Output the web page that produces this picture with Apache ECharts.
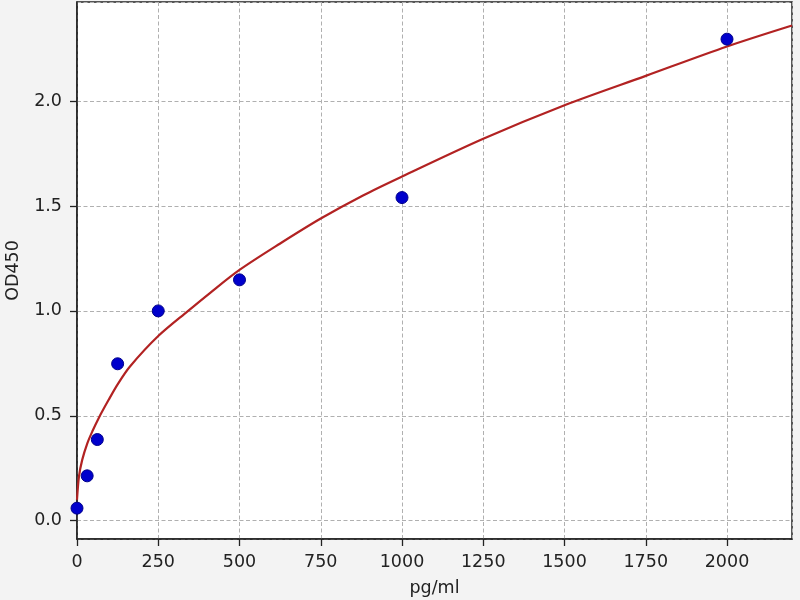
<!DOCTYPE html>
<html>
<head>
<meta charset="utf-8">
<title>OD450 标准曲线</title>
<script src="https://cdn.jsdelivr.net/npm/echarts@6/dist/echarts.min.js"></script>
<style>
    html, body { margin: 0; padding: 0; background: #f3f3f3; }
    #main { width: 800px; height: 600px; }
</style>
</head>
<body>
<div id="main"></div>
<script type="text/javascript">
    // 标准品浓度 (pg/ml) 和 OD450 读数
    var std_conc = [0, 31.25, 62.5, 125, 250, 500, 1000, 2000];
    var std_od = [0.06, 0.214, 0.387, 0.748, 1.0, 1.148, 1.54, 2.295];

    // 拟合曲线 (从图上读出的点)
    var fit_conc = [0, 6, 16, 32, 47, 67, 97, 125, 163, 250, 342, 409, 500, 624, 750, 880, 1000, 1250, 1500, 1750, 2000, 2200];
    var fit_od = [0.10, 0.21, 0.29, 0.37, 0.425, 0.49, 0.575, 0.65, 0.735, 0.88, 1.0, 1.085, 1.195, 1.32, 1.44, 1.55, 1.64, 1.82, 1.98, 2.12, 2.26, 2.36];

    // 坐标轴范围
    var x_min = 0, x_max = 2200, x_step = 250;
    var y_min = -0.087, y_max = 2.472;

    var pts = [];
    for (var i = 0; i < std_conc.length; i++) {
        pts.push([std_conc[i], std_od[i]]);
    }
    var curve = [];
    for (var j = 0; j < fit_conc.length; j++) {
        curve.push([fit_conc[j], fit_od[j]]);
    }

    var font = 'DejaVu Sans';
    var gridLine = { show: true, lineStyle: { color: '#b0b0b0', type: [4, 2.5], width: 1 } };

    var myChart = echarts.init(document.getElementById('main'));
    var option = {
        backgroundColor: '#f3f3f3',
        animation: false,
        grid: {
            left: 77, right: 8, top: 2, bottom: 61,
            containLabel: false,
            outerBoundsMode: 'none',
            show: true,
            backgroundColor: '#ffffff',
            borderColor: '#222',
            borderWidth: 1.5
        },
        xAxis: {
            type: 'value',
            min: x_min,
            max: x_max,
            interval: x_step,
            name: 'pg/ml',
            nameLocation: 'middle',
            nameGap: 40,
            nameTextStyle: { fontFamily: font, fontSize: 17.5, color: '#222' },
            axisLine: { show: true, onZero: false, lineStyle: { color: '#222', width: 1.5 } },
            axisTick: { show: true, inside: false, length: 7, lineStyle: { color: '#222', width: 1.3 } },
            axisLabel: {
                fontFamily: font, fontSize: 17.5, color: '#222', margin: 14, showMaxLabel: false,
                formatter: function (v) { return String(v); }
            },
            splitLine: gridLine
        },
        yAxis: {
            type: 'value',
            min: y_min,
            max: y_max,
            name: 'OD450',
            nameLocation: 'middle',
            nameGap: 55,
            nameRotate: 90,
            nameTextStyle: { fontFamily: font, fontSize: 17.5, color: '#222' },
            axisLine: { show: true, onZero: false, lineStyle: { color: '#222', width: 1.5 } },
            axisTick: { show: true, inside: false, length: 7, lineStyle: { color: '#222', width: 1.3 } },
            axisLabel: {
                fontFamily: font, fontSize: 17.5, color: '#222', margin: 15,
                showMinLabel: false, showMaxLabel: false,
                formatter: function (v) { return v.toFixed(1); }
            },
            splitLine: gridLine
        },
        series: [
            {
                name: '拟合曲线',
                type: 'line',
                data: curve,
                smooth: 0.3,
                showSymbol: false,
                lineStyle: { color: '#b22222', width: 2.2 },
                z: 2
            },
            {
                name: '标准品',
                type: 'scatter',
                data: pts,
                symbol: 'circle',
                symbolSize: 12,
                itemStyle: { color: '#0000cc', borderColor: '#00008b', borderWidth: 1, opacity: 1 },
                z: 3
            }
        ]
    };

    myChart.setOption(option);
</script>
</body>
</html>
